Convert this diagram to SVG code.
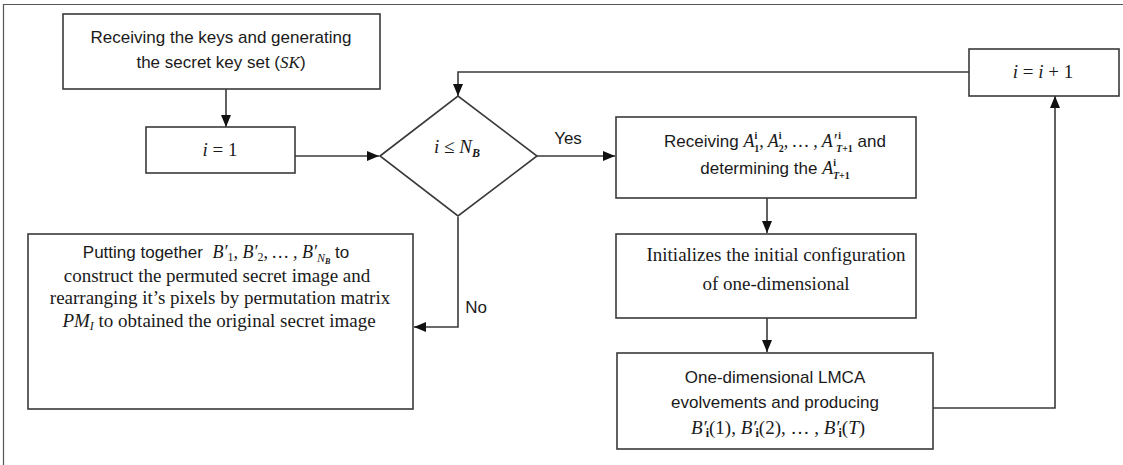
<svg xmlns="http://www.w3.org/2000/svg" width="1123" height="465" viewBox="0 0 1123 465">
<style>
.box{fill:#fff;stroke:#3a3a3a;stroke-width:1.6}
.ln{fill:none;stroke:#3a3a3a;stroke-width:1.6}
.s{font-family:"Liberation Sans",Arial,sans-serif;font-size:17px;fill:#1a1a1a;text-anchor:middle}
.r{font-family:"Liberation Serif","Times New Roman",serif;font-size:19px;fill:#1a1a1a;text-anchor:middle}
.m{font-family:"Liberation Serif","Times New Roman",serif;font-style:italic}
.ms{font-family:"Liberation Serif","Times New Roman",serif}
.b{font-weight:bold}
.sub{font-size:12px}
.sc{font-size:10px}
</style>
<defs>
<marker id="ah" markerUnits="userSpaceOnUse" markerWidth="12" markerHeight="12" viewBox="0 0 12 12" refX="12" refY="6" orient="auto">
<path d="M0,1 L12,6 L0,11 Z" fill="#111"/>
</marker>
</defs>
<rect width="1123" height="465" fill="#fff"/>
<path d="M3.5,465 V4.5 H1123" fill="none" stroke="#555" stroke-width="1.2"/>

<g id="connectors">
<path class="ln" d="M226,89 V127" marker-end="url(#ah)"/>
<path class="ln" d="M295,156 H379" marker-end="url(#ah)"/>
<path class="ln" d="M537,156 H615" marker-end="url(#ah)"/>
<path class="ln" d="M767,198 V233" marker-end="url(#ah)"/>
<path class="ln" d="M767,318 V352" marker-end="url(#ah)"/>
<path class="ln" d="M933,408 H1055 V96" marker-end="url(#ah)"/>
<path class="ln" d="M969,72 H458 V96" marker-end="url(#ah)"/>
<path class="ln" d="M458,217 V327 H414" marker-end="url(#ah)"/>
<text class="s" x="568" y="144">Yes</text>
<text class="s" x="476" y="313">No</text>
</g>

<g id="n-keys">
<rect class="box" x="63" y="14" width="317" height="75"/>
<text class="s" x="221" y="43">Receiving the keys and generating</text>
<text class="s" x="221" y="68">the secret key set (<tspan class="m">SK</tspan>)</text>
</g>

<g id="n-init">
<rect class="box" x="146" y="127" width="149" height="46"/>
<text class="r" x="220" y="156" font-size="20"><tspan class="m">i</tspan> = 1</text>
</g>

<g id="n-cond">
<path class="box" d="M380,156 L458,96 L537,156 L458,216 Z"/>
<text class="r" x="457" y="153" font-size="19"><tspan class="m">i</tspan> ≤  <tspan class="m">N</tspan><tspan class="m b sub" dy="4">B</tspan></text>
</g>

<g id="n-recv">
<rect class="box" x="616" y="117" width="300" height="81"/>
<text class="s" x="775" y="147">Receiving <tspan class="m" font-size="18">A</tspan><tspan class="sc b ms" dy="-8">i</tspan><tspan class="sc b ms" dx="-3" dy="13">1</tspan><tspan dy="-5" class="m" font-size="18">, A</tspan><tspan class="sc b ms" dy="-8">i</tspan><tspan class="sc b ms" dx="-3" dy="13">2</tspan><tspan dy="-5" class="m" font-size="18">, … , A′</tspan><tspan class="sc b ms" dx="1.5" dy="-8">i</tspan><tspan class="sc b m" dx="-5" dy="13">T</tspan><tspan class="sc b ms">+1</tspan><tspan dy="-5"> and</tspan></text>
<text class="s" x="775" y="174">determining the <tspan class="m" font-size="18">A</tspan><tspan class="sc b ms" dy="-8">i</tspan><tspan class="sc b m" dx="-3" dy="13">T</tspan><tspan class="sc b ms">+1</tspan></text>
</g>

<g id="n-config">
<rect class="box" x="616" y="234" width="300" height="84"/>
<text class="r" x="776" y="261">Initializes the initial configuration</text>
<text class="r" x="776" y="290">of one-dimensional</text>
</g>

<g id="n-lmca">
<rect class="box" x="617" y="353" width="316" height="96"/>
<text class="s" x="775" y="383">One-dimensional LMCA</text>
<text class="s" x="775" y="408">evolvements and producing</text>
<text class="r" x="778" y="434" font-size="18"><tspan class="m">B′</tspan><tspan class="sub b" dx="-1" dy="3">i</tspan><tspan dy="-3">(1), </tspan><tspan class="m">B′</tspan><tspan class="sub b" dx="-1" dy="3">i</tspan><tspan dy="-3">(2), … , </tspan><tspan class="m">B′</tspan><tspan class="sub b" dx="-1" dy="3">i</tspan><tspan dy="-3">(</tspan><tspan class="m">T</tspan>)</text>
</g>

<g id="n-final">
<rect class="box" x="28" y="234" width="385" height="175"/>
<text class="s" x="216" y="258">Putting together <tspan class="m" font-size="18" dx="5">B′</tspan><tspan class="sub ms" dy="3">1</tspan><tspan class="m" font-size="18" dy="-3">, B′</tspan><tspan class="sub ms" dy="3">2</tspan><tspan class="m" font-size="18" dy="-3">, … , B′</tspan><tspan class="sub m" dy="4">N</tspan><tspan class="m b" font-size="8" dy="2">B</tspan><tspan dy="-6"> to</tspan></text>
<text class="r" x="217" y="282">construct the permuted secret image and</text>
<text class="r" x="220" y="304">rearranging it’s pixels by permutation matrix</text>
<text class="r" x="219" y="327"><tspan class="m">PM</tspan><tspan class="m sub" dy="3">I</tspan><tspan dy="-3"> to obtained the original secret image</tspan></text>
</g>

<g id="n-inc">
<rect class="box" x="969" y="49" width="150" height="47"/>
<text class="r" x="1043" y="78" font-size="20"><tspan class="m">i</tspan> = <tspan class="m">i</tspan> + 1</text>
</g>
</svg>
